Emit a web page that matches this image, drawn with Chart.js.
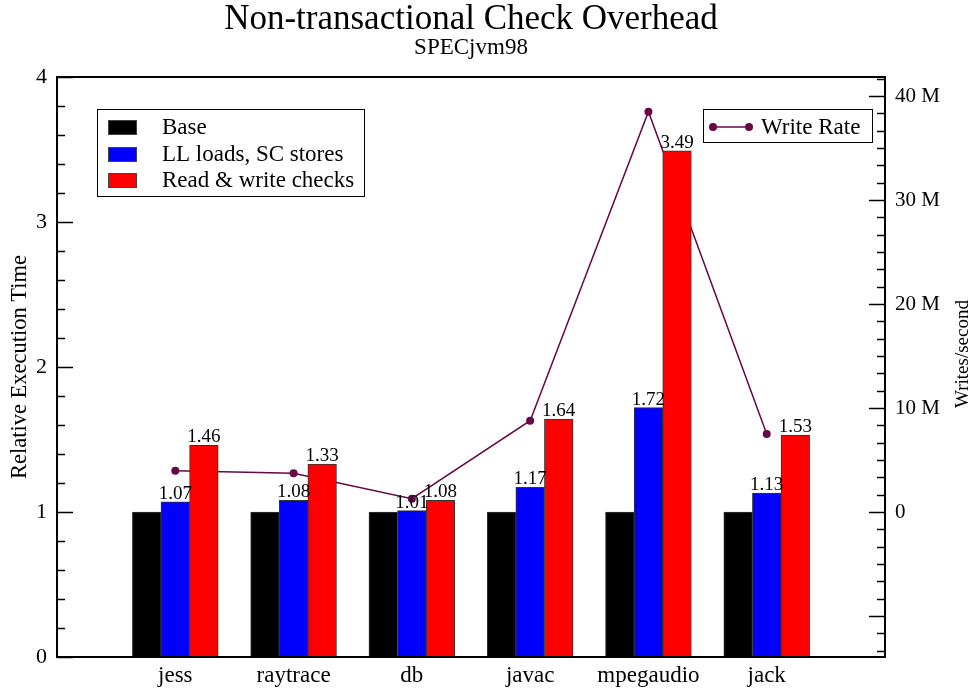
<!DOCTYPE html>
<html>
<head>
<meta charset="utf-8">
<title>Non-transactional Check Overhead</title>
<script src="https://cdn.jsdelivr.net/npm/chart.js@4/dist/chart.umd.min.js"></script>
<style>
    html, body { margin: 0; padding: 0; background: #fff; }
    canvas { display: block; }
</style>
</head>
<body>
<canvas id="overheadChart" width="975" height="693"></canvas>
<script>
// Dados do gráfico
const benchmarks = ['jess', 'raytrace', 'db', 'javac', 'mpegaudio', 'jack'];
const baseTimes = [1, 1, 1, 1, 1, 1];
const llscTimes = [1.07, 1.08, 1.01, 1.17, 1.72, 1.13];
const checkTimes = [1.46, 1.33, 1.08, 1.64, 3.49, 1.53];
const writeRates = [3.97, 3.72, 1.28, 8.78, 38.5, 7.5]; // milhões de escritas/s

const barLabels = ['Base', 'LL loads, SC stores', 'Read & write checks'];
const barColors = ['#000000', '#0000ff', '#ff0000'];
const lineLabel = 'Write Rate';
const lineColor = '#670748';

// Eixo direito: 0 M alinhado com 1.0 no eixo esquerdo
const rateMin = -13.94;
const rateMax = 41.83;

const SERIF = '"Liberation Serif", "Times New Roman", serif';

// Categorias vazias nas pontas para deixar o espaçamento da figura
function pad(values) {
    return [null, ...values, null];
}

// Título e subtítulo centrados na área do gráfico
const centeredTitle = {
    id: 'centeredTitle',
    afterDraw(chart) {
        const { ctx, chartArea: a } = chart;
        const cx = (a.left + a.right) / 2;
        ctx.save();
        ctx.fillStyle = '#000';
        ctx.textAlign = 'center';
        ctx.textBaseline = 'alphabetic';
        ctx.font = '35px ' + SERIF;
        ctx.fillText('Non-transactional Check Overhead', cx, 29);
        ctx.font = '23px ' + SERIF;
        ctx.fillText('SPECjvm98', cx, 54);
        ctx.restore();
    }
};

// Marcas internas (maiores e menores) e moldura do gráfico
const frameTicks = {
    id: 'frameTicks',
    afterDraw(chart) {
        const { ctx, chartArea: a } = chart;
        const yL = chart.scales.y;
        const yR = chart.scales.y2;
        ctx.save();
        ctx.strokeStyle = '#000';
        ctx.lineWidth = 1.5;
        ctx.beginPath();
        for (let k = 0; k <= 20; k++) {
            const v = k * 0.2;
            const py = Math.round(yL.getPixelForValue(v)) + 0.5;
            const len = k % 5 === 0 ? 16 : 8;
            ctx.moveTo(a.left, py);
            ctx.lineTo(a.left + len, py);
        }
        const step = 10 / 6;
        for (let k = Math.ceil(rateMin / step); k * step <= rateMax; k++) {
            const py = Math.round(yR.getPixelForValue(k * step)) + 0.5;
            const len = k % 6 === 0 ? 16 : 8;
            ctx.moveTo(a.right, py);
            ctx.lineTo(a.right - len, py);
        }
        ctx.stroke();
        ctx.lineWidth = 2;
        ctx.strokeRect(a.left, a.top, a.right - a.left, a.bottom - a.top);

        // Título do eixo direito, lido de baixo para cima
        ctx.fillStyle = '#000';
        ctx.font = '19px ' + SERIF;
        ctx.textAlign = 'center';
        ctx.textBaseline = 'middle';
        ctx.translate(963, 354);
        ctx.rotate(-Math.PI / 2);
        ctx.fillText('Writes/second', 0, 0);
        ctx.restore();
    }
};

// Valores sobre as barras azuis e vermelhas
const barValues = {
    id: 'barValues',
    afterDatasetsDraw(chart) {
        const { ctx } = chart;
        ctx.save();
        ctx.fillStyle = '#000';
        ctx.font = '19px ' + SERIF;
        ctx.textAlign = 'center';
        ctx.textBaseline = 'alphabetic';
        [1, 2].forEach(di => {
            const meta = chart.getDatasetMeta(di);
            const values = chart.data.datasets[di].data;
            meta.data.forEach((bar, i) => {
                if (values[i] == null) return;
                ctx.fillText(values[i].toFixed(2), bar.x, bar.y - 3);
            });
        });
        ctx.restore();
    }
};

// Duas caixas de legenda, como na figura original
const boxLegends = {
    id: 'boxLegends',
    afterDraw(chart) {
        const { ctx } = chart;
        ctx.save();
        ctx.font = '23px ' + SERIF;
        ctx.textBaseline = 'middle';
        ctx.textAlign = 'left';

        ctx.fillStyle = '#fff';
        ctx.fillRect(97, 109, 267, 88);
        ctx.strokeStyle = '#000';
        ctx.lineWidth = 1;
        ctx.strokeRect(97.5, 109.5, 267, 87);
        const rows = [127, 154, 180];
        barLabels.forEach((label, i) => {
            ctx.fillStyle = barColors[i];
            ctx.fillRect(108, rows[i] - 7, 29, 15);
            ctx.strokeStyle = '#444';
            ctx.strokeRect(108.5, rows[i] - 6.5, 28, 14);
            ctx.fillStyle = '#000';
            ctx.fillText(label, 162, rows[i] + 1);
        });

        ctx.fillStyle = '#fff';
        ctx.fillRect(703, 109, 170, 34);
        ctx.strokeStyle = '#000';
        ctx.strokeRect(703.5, 109.5, 169, 33);
        ctx.strokeStyle = lineColor;
        ctx.lineWidth = 1.5;
        ctx.beginPath();
        ctx.moveTo(713, 127);
        ctx.lineTo(749, 127);
        ctx.stroke();
        ctx.fillStyle = lineColor;
        [713, 749].forEach(x => {
            ctx.beginPath();
            ctx.arc(x, 127, 4, 0, Math.PI * 2);
            ctx.fill();
        });
        ctx.fillStyle = '#000';
        ctx.fillText(lineLabel, 761, 128);
        ctx.restore();
    }
};

function makeBarDataset(i, values) {
    return {
        type: 'bar',
        label: barLabels[i],
        data: pad(values),
        backgroundColor: barColors[i],
        borderColor: '#333',
        borderWidth: 1,
        borderSkipped: false,
        barThickness: 28.6,
        yAxisID: 'y',
        order: 1
    };
}

const ctx = document.getElementById('overheadChart').getContext('2d');
const overheadChart = new Chart(ctx, {
    data: {
        labels: pad(benchmarks).map(l => l || ''),
        datasets: [
            makeBarDataset(0, baseTimes),
            makeBarDataset(1, llscTimes),
            makeBarDataset(2, checkTimes),
            {
                type: 'line',
                label: lineLabel,
                data: pad(writeRates),
                borderColor: lineColor,
                backgroundColor: lineColor,
                borderWidth: 1.5,
                pointRadius: 4,
                pointBorderWidth: 0,
                tension: 0,
                yAxisID: 'y2',
                order: 10
            }
        ]
    },
    options: {
        responsive: false,
        devicePixelRatio: 1,
        animation: false,
        layout: { padding: { top: 77 } },
        plugins: {
            legend: { display: false },
            tooltip: { enabled: false }
        },
        scales: {
            x: {
                offset: false,
                grid: { display: false, drawTicks: false },
                border: { display: false },
                ticks: {
                    autoSkip: false,
                    maxRotation: 0,
                    padding: 5,
                    color: '#000',
                    font: { family: SERIF, size: 23 }
                },
                afterFit(scale) { scale.height = 36; }
            },
            y: {
                position: 'left',
                min: 0,
                max: 4,
                grid: { display: false, drawTicks: false },
                border: { display: false },
                ticks: {
                    stepSize: 1,
                    padding: 10,
                    color: '#000',
                    font: { family: SERIF, size: 22 }
                },
                title: {
                    display: true,
                    text: 'Relative Execution Time',
                    color: '#000',
                    font: { family: SERIF, size: 22.5 },
                    padding: { top: 7, bottom: 0 }
                },
                afterFit(scale) { scale.width = 57; }
            },
            y2: {
                position: 'right',
                min: rateMin,
                max: rateMax,
                grid: { display: false, drawTicks: false },
                border: { display: false },
                ticks: {
                    stepSize: 10,
                    includeBounds: false,
                    padding: 10,
                    color: '#000',
                    font: { family: SERIF, size: 21 },
                    callback: v => v < 0 ? '' : (v === 0 ? '0' : v + ' M')
                },
                afterFit(scale) { scale.width = 90; }
            }
        }
    },
    plugins: [centeredTitle, frameTicks, barValues, boxLegends]
});
</script>
</body>
</html>
